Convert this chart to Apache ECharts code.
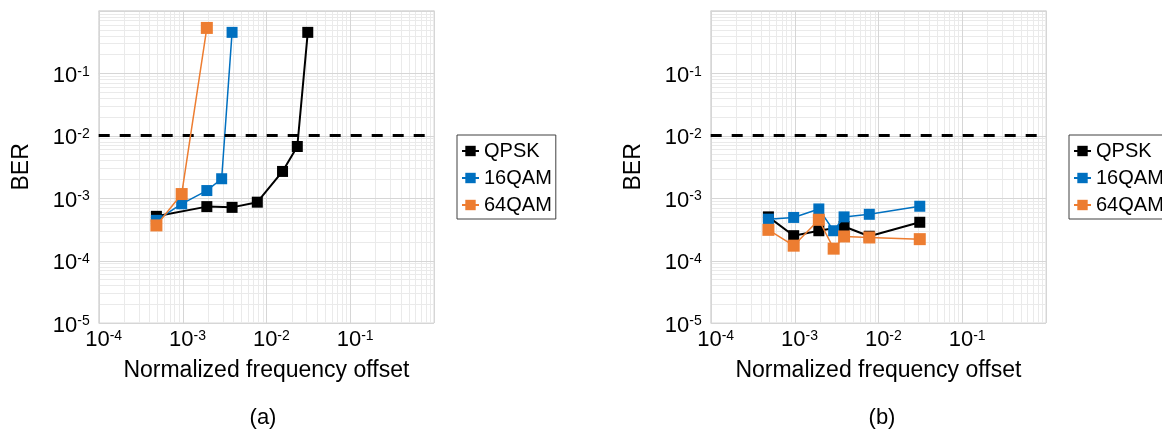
<!DOCTYPE html>
<html><head><meta charset="utf-8">
<script src="https://cdn.jsdelivr.net/npm/echarts@6/dist/echarts.min.js"></script>
<style>html,body{margin:0;padding:0;background:#fff}#c{width:1162px;height:432px}</style>
</head><body><div id="c"></div>
<script>
// ---------- data ----------
const seriesNames = ['QPSK', '16QAM', '64QAM'];
const seriesColors = ['#000000', '#0070C0', '#ED7D31'];

// panel (a)
const qpskA_x  = [0.000488, 0.00195, 0.0039, 0.0078, 0.0156, 0.0234, 0.0312];
const qpskA_y  = [5.1e-4, 7.3e-4, 7.1e-4, 8.6e-4, 2.67e-3, 6.7e-3, 0.45];
const qam16A_x = [0.000488, 0.000977, 0.00195, 0.00293, 0.0039];
const qam16A_y = [4.4e-4, 8.1e-4, 1.32e-3, 2.04e-3, 0.45];
const qam64A_x = [0.000488, 0.000977, 0.00195];
const qam64A_y = [3.65e-4, 1.16e-3, 0.53];

// panel (b)
const qpskB_x  = [0.000488, 0.000977, 0.00195, 0.0039, 0.0078, 0.0312];
const qpskB_y  = [5.0e-4, 2.5e-4, 3.0e-4, 3.5e-4, 2.45e-4, 4.1e-4];
const qam16B_x = [0.000488, 0.000977, 0.00195, 0.00293, 0.0039, 0.0078, 0.0312];
const qam16B_y = [4.6e-4, 4.9e-4, 6.7e-4, 3.0e-4, 5.0e-4, 5.5e-4, 7.4e-4];
const qam64B_x = [0.000488, 0.000977, 0.00195, 0.00293, 0.0039, 0.0078, 0.0312];
const qam64B_y = [3.1e-4, 1.73e-4, 4.5e-4, 1.55e-4, 2.43e-4, 2.34e-4, 2.2e-4];

const thresholdBER = 1e-2;
const xRange = [1e-4, 1];
const yRange = [1e-5, 1];
const xTitle = 'Normalized frequency offset';
const yTitle = 'BER';
const panelLabels = ['(a)', '(b)'];

// ---------- helpers ----------
const FONT = '"Liberation Sans", Arial, Helvetica, sans-serif';
function zip(xs, ys) { return xs.map((x, i) => [x, ys[i]]); }
function decadeValues(lo, hi) {
  const out = [];
  const e0 = Math.round(Math.log10(lo)), e1 = Math.round(Math.log10(hi));
  for (let e = e0; e < e1; e++) {
    for (let m = 1; m <= 9; m++) out.push([m * Math.pow(10, e), m === 1 ? 1 : 0]);
  }
  out.push([Math.pow(10, e1), 1]);
  return out;
}
function expLabel(v) {
  const e = Math.round(Math.log10(v));
  if (e >= 0) return '';
  return '{b|10}{s|' + e + '}';
}

const gridLeft = [98.7, 710.7];
const grids = gridLeft.map(l => ({left: l, top: 10.7, width: 335.3, height: 312.3,
  show: true, borderColor: '#d9d9d9', borderWidth: 1, backgroundColor: '#fff'}));

const richX = {
  b: {fontSize: 22, fontFamily: FONT, color: '#000', lineHeight: 22, verticalAlign: 'bottom', padding: [0, 0, 0, 10]},
  s: {fontSize: 14, fontFamily: FONT, color: '#000', lineHeight: 12, verticalAlign: 'top'}
};
const richY = {
  b: {fontSize: 22, fontFamily: FONT, color: '#000', lineHeight: 22, verticalAlign: 'bottom'},
  s: {fontSize: 14, fontFamily: FONT, color: '#000', lineHeight: 12, verticalAlign: 'top'}
};

const xAxes = [0, 1].map(i => ({
  type: 'log', logBase: 10, gridIndex: i, min: xRange[0], max: xRange[1],
  axisLine: {show: false}, axisTick: {show: false}, splitLine: {show: false},
  axisLabel: {formatter: expLabel, rich: richX, margin: 6, showMaxLabel: true, showMinLabel: true},
  name: xTitle, nameLocation: 'middle', nameGap: 36,
  nameTextStyle: {fontSize: 23, fontFamily: FONT, color: '#000'}
}));
const yAxes = [0, 1].map(i => ({
  type: 'log', logBase: 10, gridIndex: i, min: yRange[0], max: yRange[1],
  axisLine: {show: false}, axisTick: {show: false}, splitLine: {show: false},
  axisLabel: {formatter: expLabel, rich: richY, margin: 9, padding: [5, 0, 0, 0]},
  name: yTitle, nameLocation: 'middle', nameGap: 66, nameRotate: 90,
  nameTextStyle: {fontSize: 23, fontFamily: FONT, color: '#000'}
}));

// grid-line series (minor first, majors on top)
function gridLineSeries(i) {
  const xs = decadeValues(xRange[0], xRange[1]);
  const ys = decadeValues(yRange[0], yRange[1]);
  const items = [];
  [0, 1].forEach(maj => {
    xs.filter(d => d[1] === maj).forEach(d => items.push([d[0], 0.1, 0, maj]));
    ys.filter(d => d[1] === maj).forEach(d => items.push([0.01, d[0], 1, maj]));
  });
  return {
    type: 'custom', xAxisIndex: i, yAxisIndex: i, silent: true, z: 0, clip: false,
    data: items,
    renderItem: function (params, api) {
      const orient = api.value(2), maj = api.value(3);
      let p1, p2;
      if (orient === 0) {
        const v = api.value(0);
        p1 = api.coord([v, yRange[0]]); p2 = api.coord([v, yRange[1]]);
        const x = Math.round(p1[0]) + 0.5;
        p1[0] = x; p2[0] = x;
      } else {
        const v = api.value(1);
        p1 = api.coord([xRange[0], v]); p2 = api.coord([xRange[1], v]);
        const y = Math.round(p1[1]) + 0.5;
        p1[1] = y; p2[1] = y;
      }
      return {type: 'line', shape: {x1: p1[0], y1: p1[1], x2: p2[0], y2: p2[1]},
        style: {stroke: maj ? '#d6d6d6' : '#eaeaea', lineWidth: 1}};
    }
  };
}

function dataSeries(i, k, pts, symSize, lw) {
  const s = {
    name: seriesNames[k], type: 'line', xAxisIndex: i, yAxisIndex: i, z: 3 + k,
    data: pts, symbol: 'rect', symbolSize: symSize, showSymbol: true,
    lineStyle: {color: seriesColors[k], width: lw},
    itemStyle: {color: seriesColors[k]}, emphasis: {disabled: true}, animation: false
  };
  if (k === 0) {
    s.markLine = {
      silent: true, symbol: 'none', animation: false,
      label: {show: false},
      lineStyle: {color: '#000', width: 3, type: [11, 10]},
      data: [{yAxis: thresholdBER}]
    };
  }
  return s;
}

const series = [
  gridLineSeries(0), gridLineSeries(1),
  dataSeries(0, 0, zip(qpskA_x, qpskA_y), 11, 2),
  dataSeries(0, 1, zip(qam16A_x, qam16A_y), 11, 1.5),
  dataSeries(0, 2, zip(qam64A_x, qam64A_y), 12, 1.5),
  dataSeries(1, 0, zip(qpskB_x, qpskB_y), 11, 2),
  dataSeries(1, 1, zip(qam16B_x, qam16B_y), 11, 1.5),
  dataSeries(1, 2, zip(qam64B_x, qam64B_y), 12, 1.5)
];

const legendBase = {
  orient: 'vertical', top: 135, data: seriesNames,
  borderColor: '#404040', borderWidth: 1, padding: [6, 4, 4, 4],
  itemGap: 7, itemWidth: 17, itemHeight: 13,
  textStyle: {fontSize: 20, fontFamily: FONT, color: '#000', lineHeight: 20},
  selectedMode: false
};

const option = {
  backgroundColor: '#fff',
  animation: false,
  grid: grids,
  xAxis: xAxes,
  yAxis: yAxes,
  legend: [Object.assign({left: 457}, legendBase), Object.assign({left: 1069}, legendBase)],
  title: [
    {text: panelLabels[0], left: 258, top: 402, textAlign: 'center',
      textStyle: {fontSize: 22, fontWeight: 'normal', fontFamily: FONT, color: '#000'}},
    {text: panelLabels[1], left: 877, top: 402, textAlign: 'center',
      textStyle: {fontSize: 22, fontWeight: 'normal', fontFamily: FONT, color: '#000'}}
  ],
  series: series
};

const chart = echarts.init(document.getElementById('c'), null, {renderer: 'canvas'});
chart.setOption(option);
</script></body></html>
